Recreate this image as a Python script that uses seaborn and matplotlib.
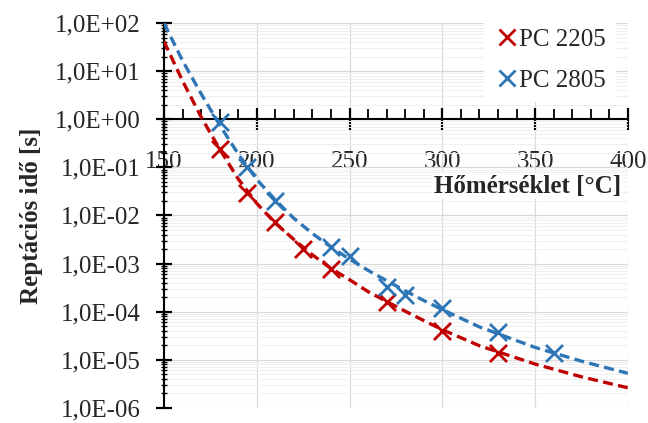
import numpy as np
import pandas as pd
import matplotlib
matplotlib.use("Agg")
import matplotlib.pyplot as plt
import seaborn as sns
from matplotlib.ticker import FuncFormatter, MultipleLocator, LogLocator
from matplotlib.lines import Line2D

# adatok (leolvasva az ábráról)
series_names = ["PC 2205", "PC 2805"]

pc2205_T = [180, 195, 210, 225, 240, 270, 300, 330]
pc2205_t = [0.24, 0.0295, 0.0072, 0.002, 7.8e-4, 1.6e-4, 3.9e-5, 1.35e-5]

pc2805_T = [180, 195, 210, 240, 250, 270, 280, 300, 330, 360]
pc2805_t = [0.87, 0.1, 0.02, 0.0022, 0.0014, 3.3e-4, 2.2e-4, 1.17e-4, 3.7e-5, 1.35e-5]

# illesztett görbék (szaggatott vonal)
fit_T = [150, 160, 170, 180, 190, 200, 210, 220, 230, 240, 250, 260, 270, 280, 290, 300, 320, 350, 375, 400]
fit_2205 = [41.7, 6.3, 1.12, 0.24, 0.0575, 0.0178, 0.0069, 0.00316, 0.00151, 7.9e-4, 4.6e-4,
            2.6e-4, 1.62e-4, 1.02e-4, 6.5e-5, 4.2e-5, 1.95e-5, 8.1e-6, 4.4e-6, 2.6e-6]
fit_2805 = [100, 16.6, 3.4, 0.76, 0.19, 0.056, 0.021, 0.0087, 0.0042, 0.0022, 0.00123,
            7.2e-4, 4.4e-4, 2.7e-4, 1.7e-4, 1.1e-4, 4.8e-5, 1.8e-5, 9.3e-6, 5.2e-6]

colors = ["#C00000", "#2E75B6"]
fs = 18

sns.set_style("white")
plt.rcParams['font.family'] = ['Liberation Serif', 'DejaVu Serif']

fig = plt.figure(figsize=(6.48, 4.23), dpi=100)
ax = fig.add_axes([0.253, 0.036, 0.716, 0.9095])

fit_df = pd.DataFrame({"T": fit_T * 2,
                       "t": fit_2205 + fit_2805,
                       "s": [series_names[0]] * len(fit_T) + [series_names[1]] * len(fit_T)})
for name, c in zip(series_names, colors):
    d = fit_df[fit_df["s"] == name]
    sns.lineplot(x="T", y="t", data=d, ax=ax, color=c, lw=2.4, linestyle=(0, (3, 1.6)),
                 zorder=3, legend=False)

sns.scatterplot(x=pc2205_T, y=pc2205_t, ax=ax, marker="x", s=150, color=colors[0],
                linewidth=2.0, zorder=4, legend=False)
sns.scatterplot(x=pc2805_T, y=pc2805_t, ax=ax, marker="x", s=150, color=colors[1],
                linewidth=2.0, zorder=4, legend=False)

ax.set_yscale("log")
ax.set_ylim(1e-6, 1e2)
ax.set_xlim(150, 400)

# x tengely az 1,0E+00 vonalon
ax.spines["bottom"].set_position(("data", 1))
ax.spines["top"].set_visible(False)
ax.spines["right"].set_visible(False)
for sp in ["bottom", "left"]:
    ax.spines[sp].set_color("black")
    ax.spines[sp].set_linewidth(1.5)

ax.xaxis.set_major_locator(MultipleLocator(50))
ax.xaxis.set_minor_locator(MultipleLocator(10))
ax.yaxis.set_major_locator(LogLocator(base=10, numticks=20))
ax.yaxis.set_minor_locator(LogLocator(base=10, subs=np.arange(2, 10), numticks=20))
ax.yaxis.set_major_formatter(FuncFormatter(lambda v, p: f"{v:.1E}".replace(".", ",")))
ax.yaxis.set_minor_formatter(FuncFormatter(lambda v, p: ""))

ax.tick_params(axis="both", which="both", bottom=True, left=True, top=False, right=False,
               color="black")
ax.tick_params(axis="x", which="major", direction="inout", length=16, width=1.6,
               labelsize=fs, pad=15)
ax.tick_params(axis="x", which="minor", direction="in", length=7, width=1.3)
ax.tick_params(axis="y", which="major", direction="inout", length=12, width=1.6,
               labelsize=fs, pad=11)
ax.tick_params(axis="y", which="minor", direction="inout", length=5, width=1.0)

ax.grid(True, which="major", axis="both", color="#D9D9D9", lw=0.9)
ax.grid(True, which="minor", axis="y", color="#EFEFEF", lw=0.7)
ax.set_axisbelow(True)

ax.set_xlabel("")
ax.set_ylabel("Reptációs idő [s]", fontsize=fs, fontweight="bold", labelpad=8)
ax.text(0.985, 0.576, "Hőmérséklet [°C]", transform=ax.transAxes, ha="right", va="center",
        fontsize=fs, fontweight="bold",
        bbox=dict(facecolor="white", edgecolor="none", pad=1))

handles = [Line2D([], [], marker="x", ls="none", color=c, markersize=11, mew=2.0) for c in colors]
leg = ax.legend(handles, series_names, loc="upper right", bbox_to_anchor=(0.985, 1.025),
                frameon=True, facecolor="white", edgecolor="none", framealpha=1,
                fontsize=fs, handletextpad=0.0, handlelength=1.0, labelspacing=0.75,
                borderaxespad=0.2)

fig.savefig("out.png", dpi=100)
